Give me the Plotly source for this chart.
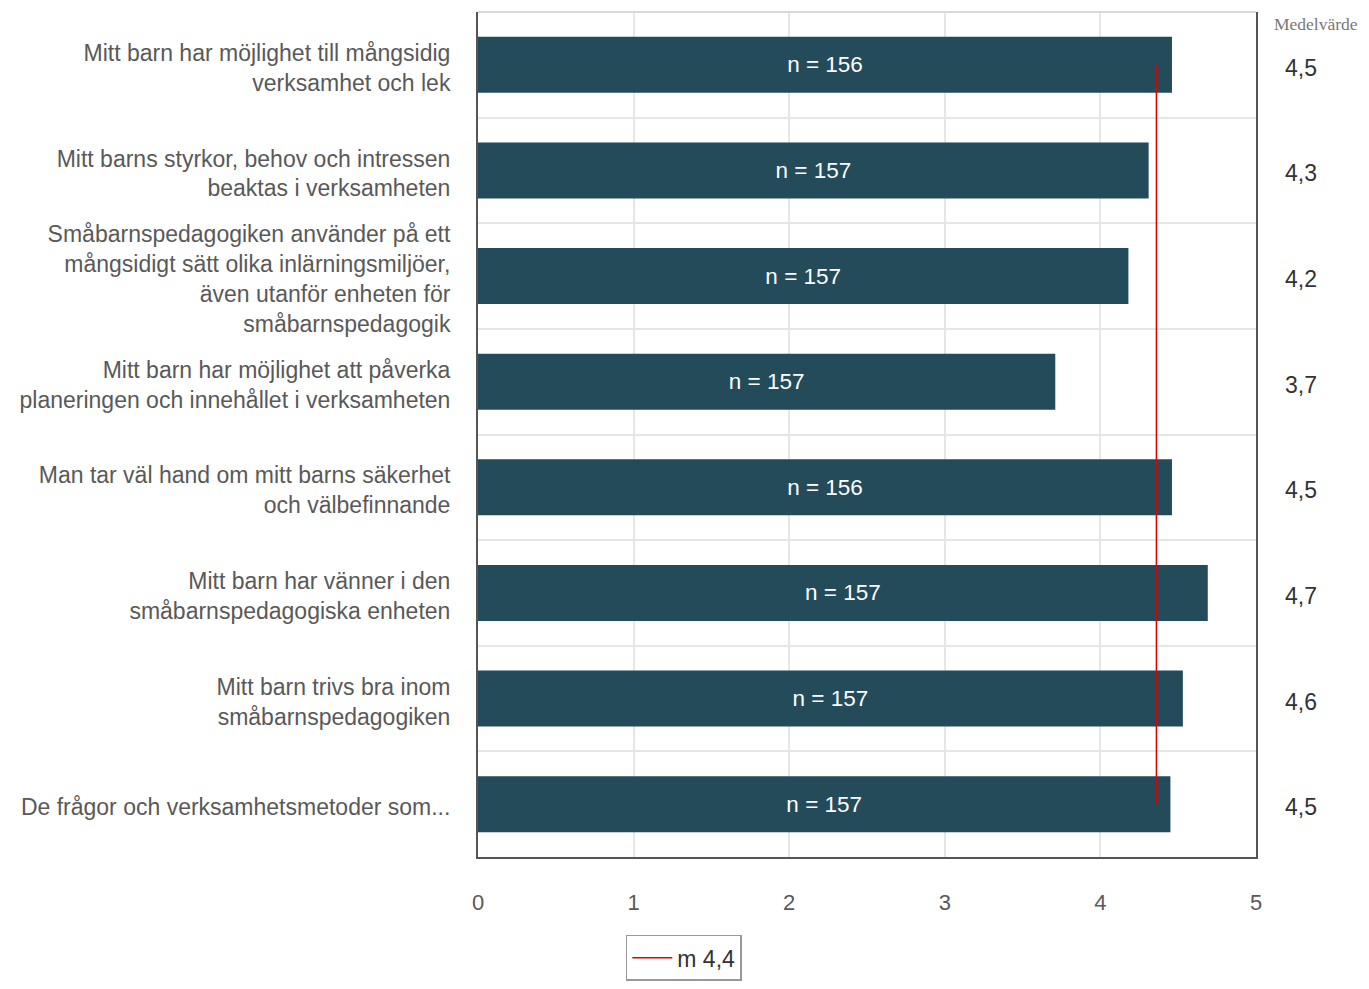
import plotly.graph_objects as go

categories = [
    "Mitt barn har möjlighet till mångsidig<br>verksamhet och lek",
    "Mitt barns styrkor, behov och intressen<br>beaktas i verksamheten",
    "Småbarnspedagogiken använder på ett<br>mångsidigt sätt olika inlärningsmiljöer,<br>även utanför enheten för<br>småbarnspedagogik",
    "Mitt barn har möjlighet att påverka<br>planeringen och innehållet i verksamheten",
    "Man tar väl hand om mitt barns säkerhet<br>och välbefinnande",
    "Mitt barn har vänner i den<br>småbarnspedagogiska enheten",
    "Mitt barn trivs bra inom<br>småbarnspedagogiken",
    "De frågor och verksamhetsmetoder som...",
]
values = [4.46, 4.31, 4.18, 3.71, 4.46, 4.69, 4.53, 4.45]
counts = [156, 157, 157, 157, 156, 157, 157, 157]
mean_labels = ["4,5", "4,3", "4,2", "3,7", "4,5", "4,7", "4,6", "4,5"]
overall_mean = 4.36
overall_label = "m 4,4"

pos = list(range(len(categories)))
font = "Liberation Sans, Arial, sans-serif"

fig = go.Figure()
fig.add_trace(go.Bar(
    x=values, y=pos, orientation="h", width=0.53,
    marker=dict(color="#234B5A", line=dict(width=0)),
    text=[f"n = {c}" for c in counts], textposition="inside",
    insidetextanchor="middle",
    textfont=dict(color="white", size=22.5, family=font),
    showlegend=False, hoverinfo="skip",
))
fig.add_trace(go.Scatter(
    x=[overall_mean] * len(pos), y=pos, mode="lines",
    line=dict(color="#E00000", width=1.5),
    name=overall_label, showlegend=True,
))

for p, m in zip(pos, mean_labels):
    fig.add_annotation(x=1.035, xref="paper", y=p, yref="y", text=m,
                       showarrow=False, xanchor="left", yshift=-3,
                       font=dict(size=23, color="#333333", family=font))
fig.add_annotation(x=1.021, xref="paper", y=1.0, yref="paper", text="Medelvärde",
                   showarrow=False, xanchor="left", yanchor="top", yshift=0,
                   font=dict(size=17.5, color="#777777", family="Liberation Serif, serif"))

fig.add_shape(type="line", xref="paper", yref="paper", x0=0, x1=1, y0=1, y1=1,
              line=dict(color="#D9D9D9", width=2))

fig.update_layout(
    width=1361, height=981,
    margin=dict(l=470, r=113, t=4, b=132),
    plot_bgcolor="white", paper_bgcolor="white",
    font=dict(family=font, size=23, color="#595959"),
    xaxis=dict(range=[0, 5], tickvals=[0, 1, 2, 3, 4, 5],
               showgrid=True, gridcolor="#E6E6E6", gridwidth=2,
               showline=True, linecolor="#555555", linewidth=2,
               ticks="outside", ticklen=25, tickcolor="rgba(0,0,0,0)",
               tickfont=dict(size=22, color="#595959"), zeroline=False,
               fixedrange=True),
    yaxis=dict(range=[7.5, -0.5], tickvals=pos, ticktext=categories,
               showgrid=False, showline=True, mirror=True,
               linecolor="#555555", linewidth=2,
               ticks="outside", ticklen=21, tickcolor="rgba(0,0,0,0)",
               tickfont=dict(size=23, color="#595959"),
               ticklabelshift=-3,
               minor=dict(tickvals=[i + 0.5 for i in pos[:-1]], showgrid=True,
                          gridcolor="#E6E6E6", gridwidth=2, ticks=""),
               zeroline=False),
    legend=dict(x=0.19, y=-0.092, xanchor="left", yanchor="top",
                bordercolor="#999999", borderwidth=1.5, bgcolor="white",
                font=dict(size=23, color="#333333"),
                itemwidth=40, entrywidth=125, entrywidthmode="pixels"),
)

fig.write_html("out.html")
